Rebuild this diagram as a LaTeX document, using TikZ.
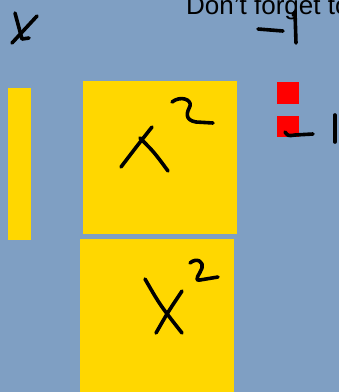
\documentclass[tikz,border=0pt]{standalone}
\usepackage{fontspec}
\setmainfont{Liberation Sans}
\definecolor{boardBlue}{HTML}{7F9FC3}
\definecolor{tileYellow}{HTML}{FFD700}
\definecolor{tileRed}{HTML}{FF0000}

\begin{document}
\begin{tikzpicture}[
    x=1pt, y=-1pt,
    board/.style={fill=boardBlue},
    tileX/.style={fill=tileYellow},
    tileOne/.style={fill=tileRed},
    ink/.style={draw=black, line width=3.6pt, line cap=round, line join=round},
    note/.style={anchor=base west, inner sep=0pt, font=\fontsize{26}{30}\selectfont},
]
\clip (0,0) rectangle (339,392);
\fill[board] (0,0) rectangle (339,392);
% algebra tiles
\fill[tileX]   (8,88)    rectangle (31,240);
\fill[tileX]   (83,81)   rectangle (237,234);
\fill[tileX]   (80,239)  rectangle (234,392);
\fill[tileOne] (277,82)  rectangle (299,104);
\fill[tileOne] (277,116) rectangle (299,137);
\node[note] (hint) at (186,14) {Don't forget to};
% handwriting: x
\draw[ink] (15,13) .. controls (18,26) .. (22,39) -- (29,38);
\draw[ink] (37,16) .. controls (24,29) .. (12,43);
% handwriting: -1
\draw[ink] (258,29) -- (283,31);
\draw[ink] (293,15) -- (295,12) .. controls (296,28) .. (296,43);
% handwriting: x^2
\draw[ink] (152,127) .. controls (137,146) .. (121,167);
\draw[ink] (140,138) .. controls (154,152) .. (168,171);
\draw[ink] (172,102) .. controls (181,95) and (192,100) .. (190,106)
    .. controls (187,112) and (184,120) .. (196,122) -- (213,123);
% handwriting: X^2
\draw[ink] (145,279) .. controls (160,305) .. (182,333);
\draw[ink] (182,291) .. controls (168,312) .. (156,333);
\draw[ink] (190,263) .. controls (197,257) and (204,262) .. (202,268)
    .. controls (200,274) and (193,281) .. (200,280) -- (218,277);
% handwriting: -1
\draw[ink] (285,132) .. controls (288,136) .. (295,135) -- (313,134);
\draw[ink] (335,115) -- (335,142);
\end{tikzpicture}
\end{document}
